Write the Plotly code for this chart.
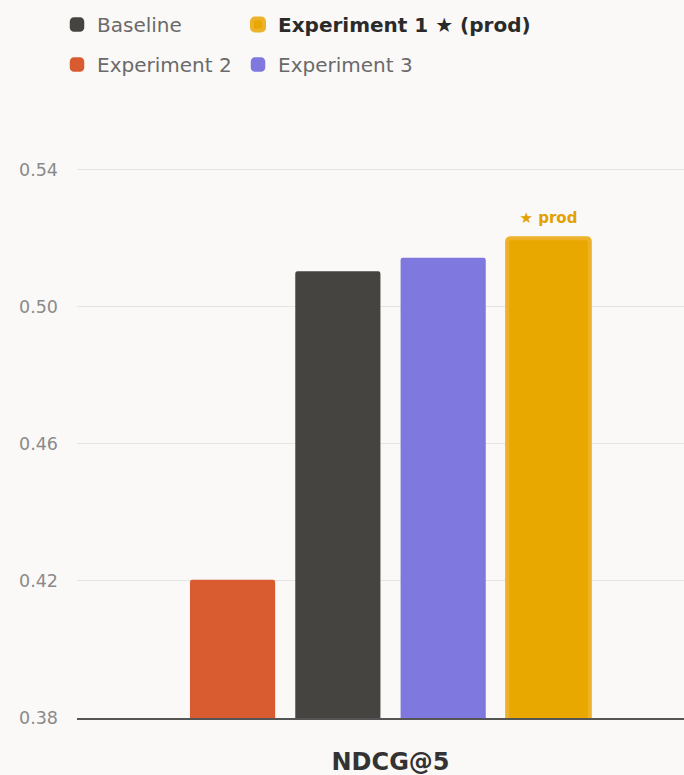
import plotly.graph_objects as go

# NDCG@5 per model, drawn in ascending order
metric = "NDCG@5"
models = ["Experiment 2", "Baseline", "Experiment 3", "Experiment 1"]
ndcg = [0.420, 0.510, 0.514, 0.520]
colors = ["#D95B30", "#454441", "#7F78DE", "#E8A800"]
legend_names = {
    "Baseline": "Baseline",
    "Experiment 1": "<b><span style='color:#2a2a2a'>Experiment 1 \u2605 (prod)</span></b>",
    "Experiment 2": "Experiment 2",
    "Experiment 3": "Experiment 3",
}
# two legend columns: left holds Baseline / Experiment 2, right holds Experiment 1 / Experiment 3
legend_column = {"Baseline": "legend", "Experiment 2": "legend",
                 "Experiment 1": "legend2", "Experiment 3": "legend2"}
legend_rank = {"Baseline": 1, "Experiment 2": 2, "Experiment 1": 1, "Experiment 3": 2}
prod_model = "Experiment 1"
prod_label = "\u2605 prod"

BG = "#FAF9F7"
FONT = "DejaVu Sans"
PROD_EDGE = "#EDB22A"
W, H = 684, 775
ML, MR, MT, MB = 77, 0, 115, 57
PLOT_W = W - ML - MR

fig = go.Figure()
for name, val, col in zip(models, ndcg, colors):
    is_prod = name == prod_model
    # the blank second line (small font) lifts the badge a little off the bar top
    badge = f"<span style='font-size:15px'><b>{prod_label}</b></span><br> "
    fig.add_trace(go.Bar(
        x=[metric], y=[val], name=legend_names[name],
        marker=dict(color=col,
                    line=dict(color=PROD_EDGE if is_prod else col, width=4 if is_prod else 2.5),
                    cornerradius=3 if is_prod else 1),
        text=[badge] if is_prod else None,
        textposition="outside" if is_prod else "none",
        textfont=dict(family=FONT, size=8, color="#E2A100"),
        constraintext="none",
        cliponaxis=False,
        legend=legend_column[name],
        legendgroup=name,
        legendrank=legend_rank[name],
    ))

legend_common = dict(
    orientation="v", xref="paper", yref="container",
    xanchor="left", yanchor="top", y=1 - 5 / H,
    tracegroupgap=11,
    font=dict(family=FONT, size=20, color="#6a6a6a"),
    bgcolor="rgba(0,0,0,0)",
)

fig.update_layout(
    width=W, height=H,
    paper_bgcolor=BG, plot_bgcolor=BG,
    margin=dict(l=ML, r=MR, t=MT, b=MB),
    barmode="group", bargap=0.306, bargroupgap=0.215,
    showlegend=True,
    legend=dict(legend_common, x=(57 - ML) / PLOT_W),
    legend2=dict(legend_common, x=(238 - ML) / PLOT_W),
    font=dict(family=FONT),
    xaxis=dict(
        type="category", range=[-0.5165, 0.4835], automargin=False,
        showgrid=False, showline=True, linecolor="#555555", linewidth=2,
        ticks="", layer="below traces",
        tickfont=dict(family=FONT, size=24, color="#333333"),
        ticktext=["<b>" + metric + "</b>"], tickvals=[metric],
        ticklabelstandoff=21,
    ),
    yaxis=dict(
        range=[0.38, 0.556], tick0=0.38, dtick=0.04, tickformat=".2f",
        automargin=False,
        showgrid=True, gridcolor="#E6E5E2", gridwidth=1,
        zeroline=False, showline=False, ticks="",
        tickfont=dict(family=FONT, size=17.5, color="#8A8A8A"),
        ticklabelstandoff=18,
    ),
)

fig.write_html("out.html")
